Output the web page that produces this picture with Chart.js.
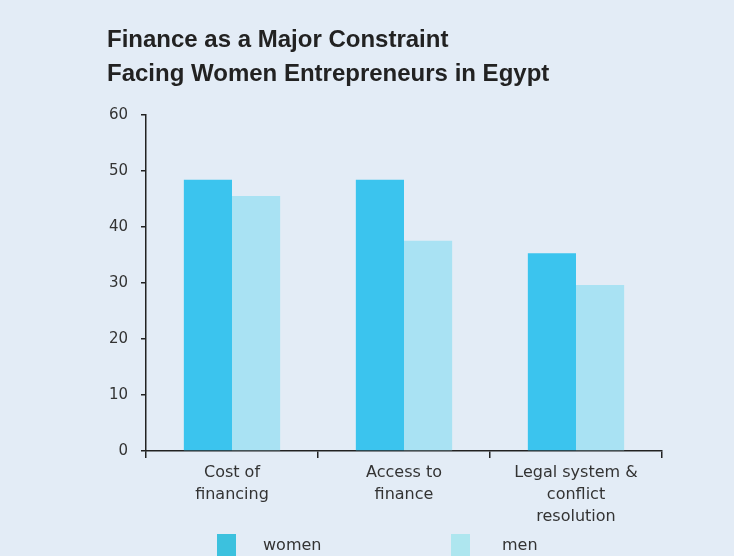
<!DOCTYPE html>
<html>
<head>
<meta charset="utf-8">
<script src="https://cdn.jsdelivr.net/npm/chart.js@4/dist/chart.umd.min.js"></script>
<style>
    html, body {
        margin: 0;
        padding: 0;
        background: #e3ecf6;
    }
    #wrap {
        position: relative;
        width: 734px;
        height: 556px;
    }
    .legend-item {
        position: absolute;
        top: 533px;
        font: 16px "DejaVu Sans", Verdana, sans-serif;
        color: #333;
    }
    .legend-item span.swatch {
        position: absolute;
        top: 1px;
        width: 19px;
        height: 22px;
    }
    .legend-item span.label {
        position: absolute;
        top: 2px;
        white-space: nowrap;
    }
</style>
</head>
<body>
<div id="wrap">
    <canvas id="chart" width="734" height="556"></canvas>
    <div id="legend"></div>
</div>
<script>
    const titleLines = ["Finance as a Major Constraint", "Facing Women Entrepreneurs in Egypt"];
    const categories = [
        ["Cost of", "financing"],
        ["Access to", "finance"],
        ["Legal system &", "conflict", "resolution"],
    ];
    const seriesNames = ["women", "men"];
    const womenValues = [48.4, 48.4, 35.3];
    const menValues = [45.5, 37.5, 29.6];
    const yTicks = [0, 10, 20, 30, 40, 50, 60];

    const seriesColors = ["#3bc4ee", "#a9e2f3"];
    const legendColors = ["#3cc1de", "#aee6ef"];
    const axisColor = "#222";

    const titleFont = '"Liberation Sans", Arial, sans-serif';
    const labelFont = '"DejaVu Sans", Verdana, sans-serif';

    const data = {
        labels: categories,
        datasets: [
            {
                label: seriesNames[0],
                data: womenValues,
                backgroundColor: seriesColors[0],
            },
            {
                label: seriesNames[1],
                data: menValues,
                backgroundColor: seriesColors[1],
            },
        ],
    };

    new Chart(document.getElementById("chart").getContext("2d"), {
        type: "bar",
        data: data,
        options: {
            responsive: false,
            animation: false,
            layout: {
                padding: { top: 24, left: 107, right: 72, bottom: 25 },
            },
            datasets: {
                bar: {
                    categoryPercentage: 0.56,
                    barPercentage: 1.0,
                },
            },
            scales: {
                x: {
                    grid: {
                        offset: true,
                        drawOnChartArea: false,
                        drawTicks: true,
                        tickLength: 7,
                        color: axisColor,
                        lineWidth: 1.5,
                    },
                    border: { color: axisColor, width: 1.5 },
                    ticks: {
                        color: "#333",
                        padding: 4,
                        maxRotation: 0,
                        autoSkip: false,
                        font: { family: labelFont, size: 16, lineHeight: 1.38 },
                    },
                    afterFit: function (scale) {
                        scale.height = 80;
                    },
                },
                y: {
                    min: 0,
                    max: 60,
                    afterBuildTicks: function (scale) {
                        scale.ticks = yTicks.map((v) => ({ value: v }));
                    },
                    grid: {
                        drawOnChartArea: false,
                        drawTicks: true,
                        tickLength: 5,
                        color: axisColor,
                        lineWidth: 1.5,
                    },
                    border: { color: axisColor, width: 1.5 },
                    ticks: {
                        color: "#333",
                        padding: 13,
                        font: { family: labelFont, size: 15 },
                    },
                    afterFit: function (scale) {
                        scale.width = 39;
                    },
                },
            },
            plugins: {
                legend: { display: false },
                tooltip: { enabled: false },
                title: {
                    display: true,
                    text: titleLines,
                    align: "start",
                    color: "#222",
                    padding: { top: 0, bottom: 24 },
                    font: { family: titleFont, size: 24, weight: "bold", lineHeight: 1.39 },
                },
            },
        },
    });

    // legend drawn as html so the wide spacing of the original can be kept
    const legendX = [217, 451];
    const legendEl = document.getElementById("legend");
    seriesNames.forEach(function (name, i) {
        const item = document.createElement("div");
        item.className = "legend-item";
        item.style.left = legendX[i] + "px";
        item.innerHTML =
            '<span class="swatch" style="left:0;background:' + legendColors[i] + '"></span>' +
            '<span class="label" style="left:' + (i === 0 ? 46 : 51) + 'px">' + name + "</span>";
        legendEl.appendChild(item);
    });
</script>
</body>
</html>
